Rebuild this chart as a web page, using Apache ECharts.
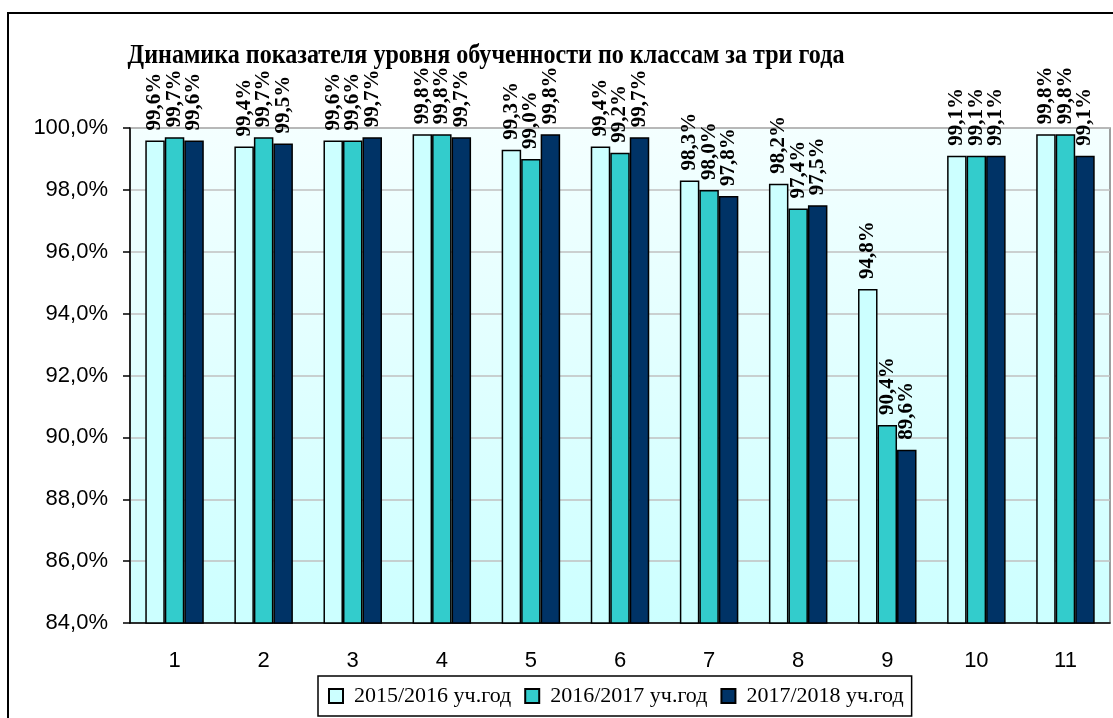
<!DOCTYPE html>
<html>
<head>
<meta charset="utf-8">
<script src="https://cdn.jsdelivr.net/npm/echarts@6/dist/echarts.min.js"></script>
<style>
  html, body { margin: 0; padding: 0; background: #fff; }
  #chart { width: 1113px; height: 718px; }
</style>
</head>
<body>
<div id="chart"></div>
<script>
// классы
const classes = ['1', '2', '3', '4', '5', '6', '7', '8', '9', '10', '11']
const seriesNames = ['2015/2016 уч.год', '2016/2017 уч.год', '2017/2018 уч.год']
const year2015 = [99.6, 99.4, 99.6, 99.8, 99.3, 99.4, 98.3, 98.2, 94.8, 99.1, 99.8]
const year2016 = [99.7, 99.7, 99.6, 99.8, 99.0, 99.2, 98.0, 97.4, 90.4, 99.1, 99.8]
const year2017 = [99.6, 99.5, 99.7, 99.7, 99.8, 99.7, 97.8, 97.5, 89.6, 99.1, 99.1]
const colors = ['#ccffff', '#33cccc', '#003366']

const serif = '"Liberation Serif", "Times New Roman", serif'
const sans = '"Liberation Sans", Arial, sans-serif'

const myChart = echarts.init(document.getElementById('chart'))

function pct(v) {
  return v.toFixed(1).replace('.', ',') + '%'
}

function makeSeries(name, data, color) {
  return {
    name: name,
    type: 'bar',
    data: data,
    barWidth: 19.5,
    barGap: '0%',
    itemStyle: {
      color: color,
      borderColor: '#000',
      borderWidth: 1.5
    },
    label: {
      show: true,
      position: 'top',
      rotate: 90,
      align: 'left',
      verticalAlign: 'middle',
      distance: 10,
      fontFamily: serif,
      fontWeight: 'bold',
      fontSize: 21,
      color: '#000',
      formatter: (p) => pct(p.value)
    }
  }
}

const option = {
  animation: false,
  backgroundColor: '#fff',
  graphic: [
    {
      // заголовок (узкий шрифт как в оригинале)
      type: 'text',
      x: 486,
      y: 55.5,
      scaleX: 0.86,
      z: 50,
      style: {
        text: 'Динамика показателя уровня обученности по классам за три года',
        x: 0,
        y: 0,
        align: 'center',
        verticalAlign: 'middle',
        font: 'bold 28px ' + serif,
        fill: '#000'
      }
    },
    {
      type: 'rect',
      shape: { x: 8, y: 13, width: 1200, height: 800 },
      style: { fill: 'none', stroke: '#000', lineWidth: 2 },
      z: 100
    }
  ],
  legend: {
    left: 318,
    top: 676,
    padding: [9, 8, 9, 10],
    itemGap: 13,
    itemWidth: 14,
    itemHeight: 14,
    icon: 'rect',
    borderColor: '#000',
    borderWidth: 1.5,
    backgroundColor: '#fff',
    textStyle: {
      fontFamily: serif,
      fontSize: 22,
      color: '#000',
      padding: [0, 0, 0, 6]
    },
    data: seriesNames
  },
  grid: {
    left: 130,
    right: 3,
    top: 128,
    bottom: 95,
    show: true,
    borderColor: '#808080',
    borderWidth: 1.5,
    backgroundColor: {
      type: 'linear', x: 0, y: 0, x2: 0, y2: 1,
      colorStops: [
        { offset: 0, color: '#f4ffff' },
        { offset: 1, color: '#ccffff' }
      ]
    }
  },
  xAxis: {
    type: 'category',
    data: classes,
    axisLine: { lineStyle: { color: '#000', width: 1.5 } },
    axisTick: { length: 8, lineStyle: { color: '#000', width: 1.5 } },
    axisLabel: {
      margin: 27,
      fontFamily: sans,
      fontSize: 22,
      color: '#000'
    }
  },
  yAxis: {
    type: 'value',
    min: 84,
    max: 100,
    interval: 2,
    axisLine: { show: true, lineStyle: { color: '#000', width: 1.5 } },
    axisTick: { show: true, length: 7, lineStyle: { color: '#000', width: 1.5 } },
    splitLine: { lineStyle: { color: '#c0c0c0', width: 1.5 } },
    axisLabel: {
      margin: 22,
      fontFamily: sans,
      fontSize: 22,
      color: '#000',
      formatter: (v) => pct(v)
    }
  },
  series: [
    makeSeries(seriesNames[0], year2015, colors[0]),
    makeSeries(seriesNames[1], year2016, colors[1]),
    makeSeries(seriesNames[2], year2017, colors[2])
  ]
}

myChart.setOption(option)

window.addEventListener('resize', () => {
  myChart.resize()
})
</script>
</body>
</html>
